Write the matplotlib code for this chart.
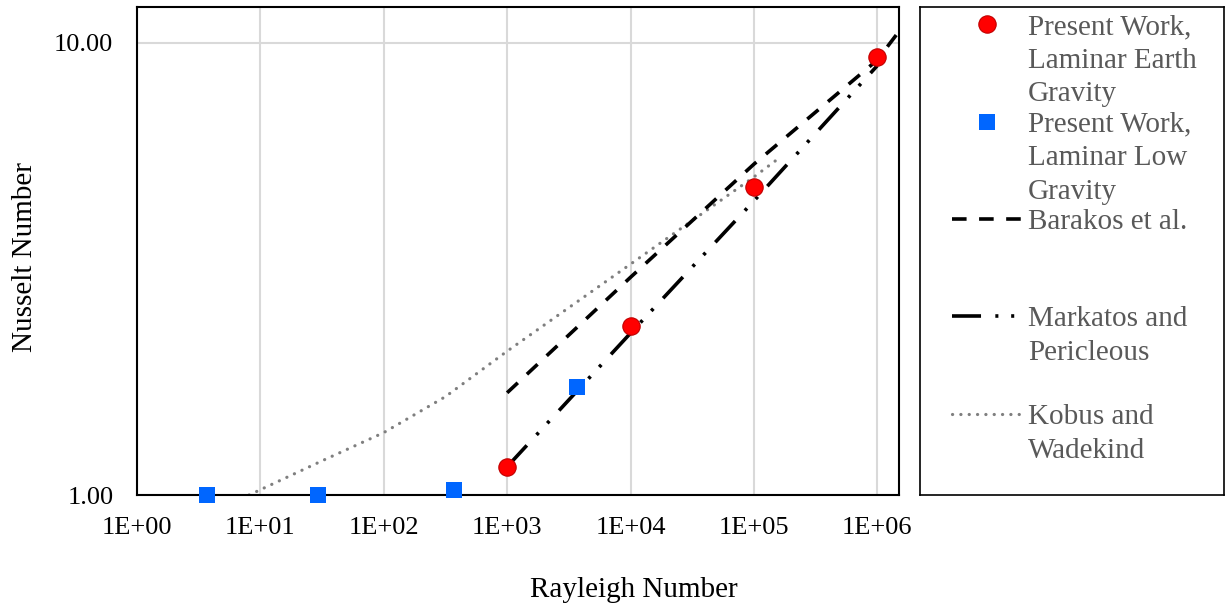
import matplotlib.pyplot as plt
from matplotlib.lines import Line2D

plt.rcParams['font.family'] = ['Liberation Serif', 'DejaVu Serif']
plt.rcParams['lines.scale_dashes'] = False

# present work, laminar, earth gravity
earth_ra = [1e3, 1e4, 1e5, 1e6]
earth_nu = [1.155, 2.37, 4.79, 9.30]

# present work, laminar, low gravity
low_ra = [3.7, 29.3, 374, 3700]
low_nu = [1.0, 1.0, 1.026, 1.73]

barakos_ra = [1e3, 1e4, 1e5, 1e6, 1.5e6]
barakos_nu = [1.683, 3.03, 5.39, 9.16, 10.6]

markatos_ra = [1e3, 1e4, 1e5, 1e6]
markatos_nu = [1.155, 2.28, 4.47, 8.9]

kobus_ra = [8.1, 31.6, 100, 316, 1000, 1e4, 1e5, 1.6e5]
kobus_nu = [1.0, 1.19, 1.374, 1.65, 2.08, 3.24, 5.05, 5.56]

x_ticks = [1, 10, 100, 1e3, 1e4, 1e5, 1e6]
x_tick_labels = ['1E+00', '1E+01', '1E+02', '1E+03', '1E+04', '1E+05', '1E+06']
y_ticks = [1, 10]
y_tick_labels = ['1.00', '10.00']

legend_labels = [
    'Present Work,\nLaminar Earth\nGravity',
    'Present Work,\nLaminar Low\nGravity',
    'Barakos et al.',
    'Markatos and\nPericleous',
    'Kobus and\nWadekind',
]

RED = '#ff0000'
BLUE = '#0066ff'
GREY = '#7f7f7f'
BARAKOS_DASH = (10.5, 9.0)
MARKATOS_DASH = (20.9, 10.3, 2.2, 9.2, 2.2, 10.3)
KOBUS_DASH = (0.1, 5.9)

W, H = 1226, 607
fig = plt.figure(figsize=(W / 100, H / 100), dpi=100)
ax = fig.add_axes([137 / W, 1 - 495 / H, (899 - 137) / W, (495 - 7) / H])

ax.set_xscale('log')
ax.set_yscale('log')
ax.set_xlim(1, 1.5e6)
ax.set_ylim(1, 12)

ax.plot(kobus_ra, kobus_nu, color=GREY, lw=2.3, dashes=KOBUS_DASH,
        dash_capstyle='round', zorder=2)
ax.plot(barakos_ra, barakos_nu, color='black', lw=2.6, dashes=BARAKOS_DASH,
        dash_capstyle='butt', zorder=3, clip_on=False)
ax.plot(markatos_ra, markatos_nu, color='black', lw=2.6, dashes=MARKATOS_DASH,
        dash_capstyle='butt', zorder=3)
ax.plot(earth_ra, earth_nu, 'o', color=RED, markeredgecolor='#c00000',
        markeredgewidth=0.8, markersize=12.5, zorder=5, clip_on=False)
ax.plot(low_ra, low_nu, 's', color=BLUE, markeredgewidth=0, markersize=11.3,
        zorder=5, clip_on=False)

ax.set_xticks(x_ticks)
ax.set_xticklabels(x_tick_labels)
ax.set_yticks(y_ticks)
ax.set_yticklabels(y_tick_labels)
ax.minorticks_off()
ax.tick_params(axis='both', length=0, labelsize=19)
ax.tick_params(axis='x', pad=16)
ax.tick_params(axis='y', pad=17)
ax.grid(True, color='#d9d9d9', lw=1.5)
ax.set_axisbelow(True)
for sp in ax.spines.values():
    sp.set_linewidth(1.5)
    sp.set_color('black')

# axis titles placed in figure pixels
fig.text(634 / W, 1 - 590 / H, 'Rayleigh Number', fontsize=21,
         ha='center', va='center')
fig.text(25 / W, 1 - 257 / H, 'Nusselt Number', fontsize=21,
         ha='center', va='center', rotation=90)

# legend panel, drawn in pixel coordinates
lax = fig.add_axes([920 / W, 1 - 495 / H, 304 / W, 488 / H])
lax.set_xlim(920, 1224)
lax.set_ylim(495, 7)
lax.set_xticks([])
lax.set_yticks([])
for sp in lax.spines.values():
    sp.set_linewidth(1.2)
    sp.set_color('black')

rows = [24, 121.7, 219, 316, 414]
handles = [
    Line2D([986.7], [rows[0]], marker='o', color=RED, markeredgecolor='#c00000',
           markeredgewidth=0.8, markersize=12.5, linestyle='none'),
    Line2D([986.7], [rows[1]], marker='s', color=BLUE, markeredgewidth=0,
           markersize=11.3, linestyle='none'),
    Line2D([951.7, 1021.7], [rows[2]] * 2, color='black', lw=2.6,
           dashes=BARAKOS_DASH, dash_capstyle='butt'),
    Line2D([951.7, 1014.5], [rows[3]] * 2, color='black', lw=2.6,
           dashes=MARKATOS_DASH, dash_capstyle='butt'),
    Line2D([951.7, 1021], [rows[4]] * 2, color=GREY, lw=2.3,
           dashes=KOBUS_DASH, dash_capstyle='round'),
]
for h in handles:
    lax.add_line(h)

for y0, label in zip(rows, legend_labels):
    for i, line in enumerate(label.split('\n')):
        lax.text(1028, y0 + 10 + i * 33.5, line, fontsize=21, color='#595959',
                 va='baseline', ha='left')

fig.savefig('out.png', dpi=100)
